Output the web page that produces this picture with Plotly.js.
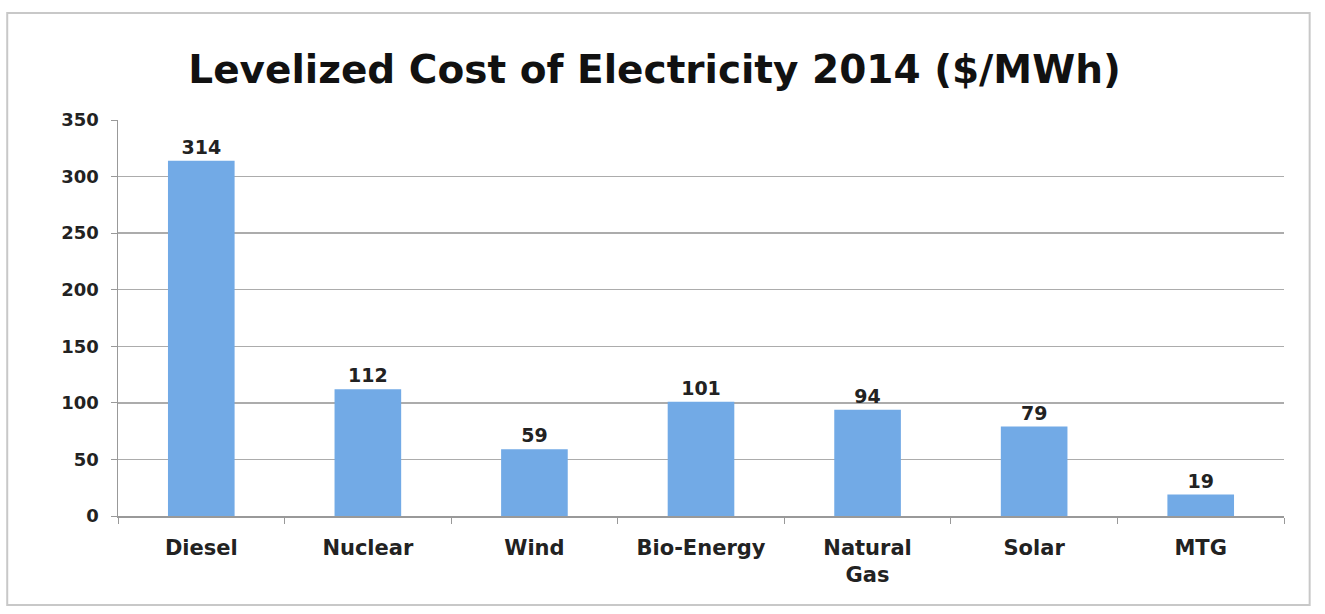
<!DOCTYPE html>
<html>
<head>
<meta charset="utf-8">
<script src="https://cdn.plot.ly/plotly-3.0.1.min.js"></script>
<style>html,body{margin:0;padding:0;background:#fff;}#chart{width:1325px;height:614px;}</style>
</head>
<body>
<div id="chart"></div>
<script>
const categories = ["Diesel", "Nuclear", "Wind", "Bio-Energy", "Natural<br>Gas", "Solar", "MTG"];
const costs = [314, 112, 59, 101, 94, 79, 19];
const yTicks = [0, 50, 100, 150, 200, 250, 300, 350];

const font = "'DejaVu Sans', 'Open Sans', sans-serif";

const trace = {
  type: "bar",
  x: categories,
  y: costs,
  text: costs.map(String),
  textposition: "outside",
  cliponaxis: false,
  textfont: {family: font, size: 19, color: "#222", weight: 700},
  marker: {color: "#72aae6", line: {width: 0}},
  hoverinfo: "x+y"
};

const layout = {
  width: 1325,
  height: 614,
  margin: {l: 118, r: 41, t: 120, b: 98},
  paper_bgcolor: "#ffffff",
  plot_bgcolor: "#ffffff",
  bargap: 0.6,
  showlegend: false,
  title: {
    text: "Levelized Cost of Electricity 2014 ($/MWh)",
    x: 0.494, xanchor: "center",
    y: 0.887, yanchor: "middle",
    font: {family: font, size: 39, color: "#111", weight: 700}
  },
  xaxis: {
    type: "category",
    showline: true, linecolor: "#999", linewidth: 1.5,
    ticks: "outside", ticklen: 6, tickcolor: "#999", tickson: "boundaries",
    tickfont: {family: font, size: 21, color: "#222", weight: 700},
    ticklabelstandoff: 12,
    showgrid: false
  },
  yaxis: {
    range: [0, 350],
    tickvals: yTicks,
    ticktext: yTicks.map(String),
    showline: true, linecolor: "#999", linewidth: 1.5,
    ticks: "outside", ticklen: 6, tickcolor: "#999",
    showgrid: true, gridcolor: "#acacac", gridwidth: 1.5,
    zeroline: false,
    tickfont: {family: font, size: 18, color: "#222", weight: 700},
    ticklabelstandoff: 8
  },
  shapes: [{
    type: "rect", xref: "paper", yref: "paper",
    x0: -0.095, x1: 1.022, y0: -0.225, y1: 1.27,
    line: {color: "#c8c8c8", width: 2}, fillcolor: "rgba(0,0,0,0)", layer: "below"
  }]
};

Plotly.newPlot("chart", [trace], layout, {displayModeBar: false, staticPlot: true});
</script>
</body>
</html>
